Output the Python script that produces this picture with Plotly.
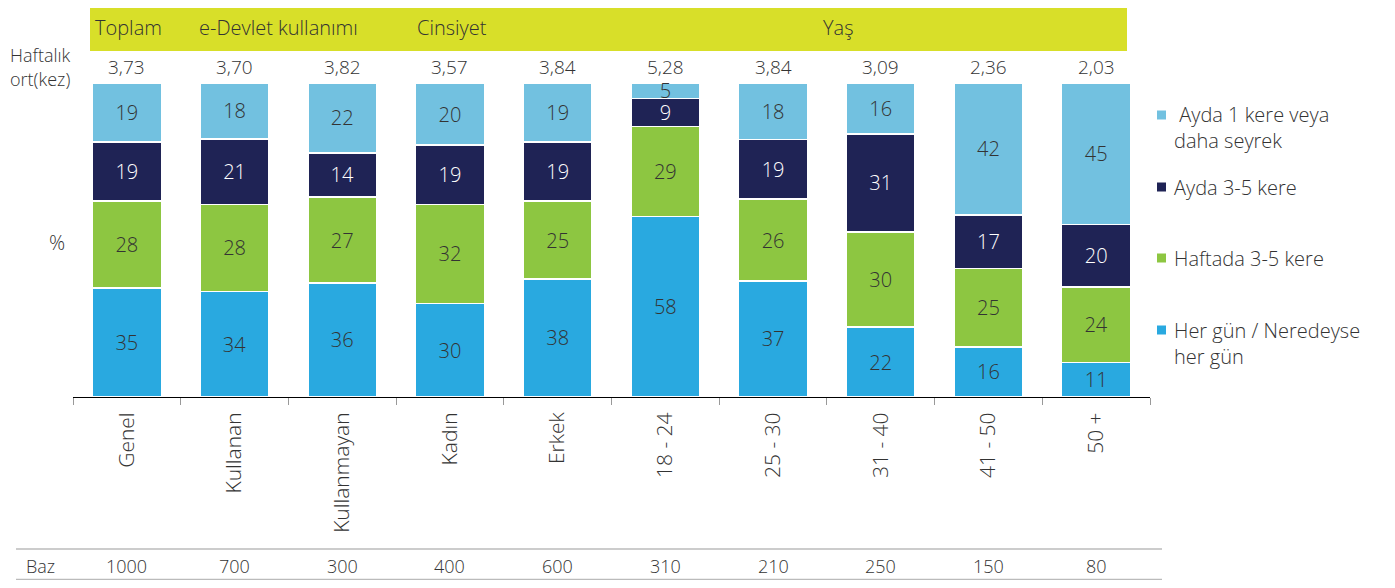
import plotly.graph_objects as go

categories = ["Genel", "Kullanan", "Kullanmayan", "Kadın", "Erkek",
              "18 - 24", "25 - 30", "31 - 40", "41 - 50", "50 +"]
her_gun = [35, 34, 36, 30, 38, 58, 37, 22, 16, 11]
haftada = [28, 28, 27, 32, 25, 29, 26, 30, 25, 24]
ayda_3_5 = [19, 21, 14, 19, 19, 9, 19, 31, 17, 20]
ayda_1 = [19, 18, 22, 20, 19, 5, 18, 16, 42, 45]
haftalik_ort = ["3,73", "3,70", "3,82", "3,57", "3,84", "5,28", "3,84", "3,09", "2,36", "2,03"]
baz = [1000, 700, 300, 400, 600, 310, 210, 250, 150, 80]

series_names = ["Her gün / Neredeyse<br>her gün", "Haftada 3-5 kere",
                "Ayda 3-5 kere", "\u00a0Ayda 1 kere veya<br>daha seyrek"]
series_values = [her_gun, haftada, ayda_3_5, ayda_1]
colors = ["#29A9E0", "#8DC641", "#1F2355", "#72C1E0"]
text_colors = ["#333333", "#333333", "#FFFFFF", "#333333"]

FONT = "Open Sans"
FS = 19
TXT = "#333333"
OFF = 8                      # default body margin of the html page
W, H = 1395 - 2 * OFF, 588 - 2 * OFF
# plot area in page pixels
PX0, PX1, PY0, PY1 = 73, 1150, 83, 397
L, T = PX0 - OFF, PY0 - OFF
R = W - L - (PX1 - PX0)
B = H - T - (PY1 - PY0)
PW, PH = PX1 - PX0, PY1 - PY0


def px(x):
    return (x - PX0) / PW


def py(y):
    return (PY1 - y) / PH


def font(size=FS, color=TXT):
    return dict(family=FONT, size=size, color=color, weight=300)


fig = go.Figure()
for name, vals, c, tc in zip(series_names, series_values, colors, text_colors):
    fig.add_trace(go.Bar(
        x=categories, y=vals, name=name,
        marker=dict(color=c, line=dict(color="white", width=1.5)),
        text=[str(v) for v in vals], textposition="inside",
        insidetextanchor="middle", textangle=0,
        textfont=font(20, tc),
        showlegend=False, hoverinfo="skip",
    ))

ann = []
shapes = []


def add_text(text, x, y, xref="paper", xanchor="center", align="center", size=FS):
    ann.append(dict(text=text, x=x, y=y, xref=xref, yref="paper",
                    xanchor=xanchor, yanchor="middle", align=align,
                    showarrow=False, font=font(size)))


# header band
shapes.append(dict(type="rect", xref="paper", yref="paper",
                   x0=px(90), x1=px(1127), y0=py(51), y1=py(6),
                   fillcolor="#D8DF29", line=dict(width=0), layer="below"))
for t, x in [("Toplam", 128), ("e-Devlet kullanımı", 278),
             ("Cinsiyet", 452), ("Yaş", 838)]:
    add_text(t, px(x), py(28), size=20)

# weekly averages
for c, v in zip(categories, haftalik_ort):
    add_text(v, c, py(67), xref="x")
add_text("Haftalık", px(40), py(55), size=18)
add_text("ort(kez)", px(40), py(79), size=18)
add_text("%", px(57), py(242), size=20)

# Baz row
for yy in (549, 579.5):
    shapes.append(dict(type="line", xref="paper", yref="paper",
                       x0=px(16), x1=px(1162), y0=py(yy), y1=py(yy),
                       line=dict(color="#BBBBBB", width=1.5)))
add_text("Baz", px(40), py(566), size=18)
for c, v in zip(categories, baz):
    add_text(str(v), c, py(566), xref="x", size=18)

# legend (drawn by hand to keep its spacing)
leg_sq_y = [330, 258, 187, 115]
leg_txt_y = [343, 258, 187, 127]
for name, c, sy, ty in zip(series_names, colors, leg_sq_y, leg_txt_y):
    shapes.append(dict(type="rect", xref="paper", yref="paper",
                       x0=px(1157), x1=px(1166), y0=py(sy + 4.5), y1=py(sy - 4.5),
                       fillcolor=c, line=dict(width=0)))
    add_text(name, px(1172), py(ty), xanchor="left", align="left", size=20)

fig.update_layout(
    width=W, height=H, barmode="stack", barnorm="percent", bargap=0.36,
    margin=dict(l=L, r=R, t=T, b=B, autoexpand=False),
    paper_bgcolor="white", plot_bgcolor="white",
    uniformtext=dict(minsize=20, mode="show"),
    xaxis=dict(type="category", showline=True, linecolor="#000000", linewidth=1,
               ticks="outside", tickson="boundaries", ticklen=7, tickcolor="#999999",
               tickangle=-90, tickfont=font(21), ticklabelstandoff=6,
               showgrid=False, fixedrange=True),
    yaxis=dict(range=[0, 100], showticklabels=False, showgrid=False, zeroline=False,
               showline=False, fixedrange=True),
    annotations=ann, shapes=shapes, showlegend=False,
)

fig.write_html("out.html")
